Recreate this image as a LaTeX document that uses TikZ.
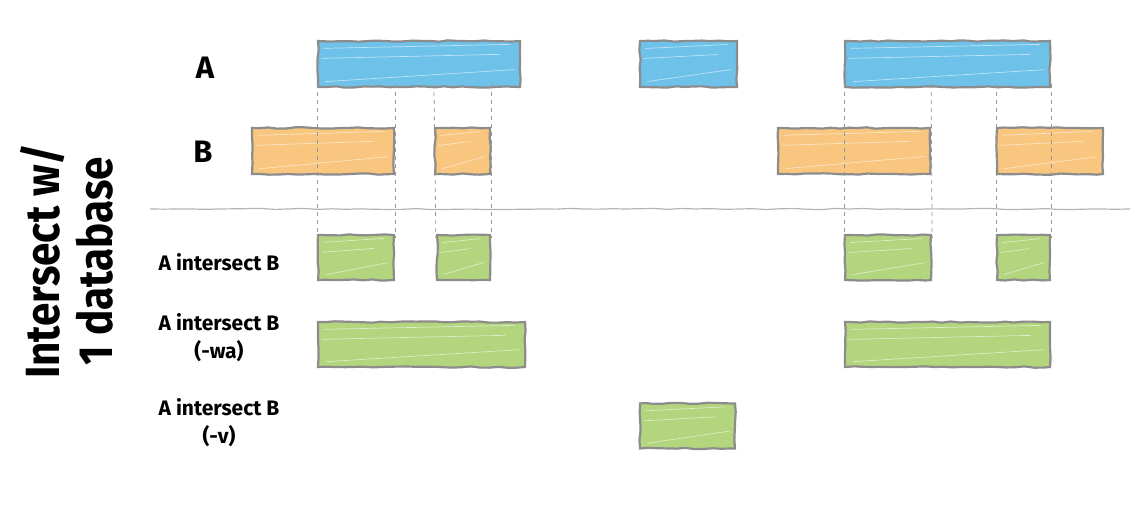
\documentclass[tikz,border=0pt]{standalone}
\usepackage{fontspec}
\setmainfont{Fira Sans}
\newfontfamily\narrowfont[FakeStretch=0.88]{Fira Sans}
\usetikzlibrary{decorations.pathmorphing}
\definecolor{barblue}{HTML}{6EC1E8}
\definecolor{barorange}{HTML}{F8C67E}
\definecolor{bargreen}{HTML}{B3D57D}
\definecolor{barline}{HTML}{8C8C8C}
\definecolor{rulegray}{HTML}{B4B4B4}
\tikzset{
  bar/.style={draw=barline, line width=2.2pt, inner sep=0pt, minimum height=46pt,
    decorate, decoration={random steps, segment length=9pt, amplitude=0.7pt},
    path picture={
      \draw[white, opacity=0.55, line width=0.7pt]
        ([xshift=6pt,yshift=-8pt]path picture bounding box.north west) -- ([xshift=-10pt,yshift=-4pt]path picture bounding box.north east)
        ([xshift=8pt,yshift=6pt]path picture bounding box.south west) -- ([xshift=-6pt,yshift=18pt]path picture bounding box.south east)
        ([xshift=4pt,yshift=-18pt]path picture bounding box.north west) -- ([xshift=-20pt,yshift=-14pt]path picture bounding box.north east);
    }},
  abar/.style={bar, fill=barblue},
  bbar/.style={bar, fill=barorange},
  gbar/.style={bar, fill=bargreen, minimum height=45pt},
  guide/.style={draw=barline!90, line width=0.8pt, dash pattern=on 4pt off 4pt},
  rowlabel/.style={font=\bfseries\fontsize{31}{33}\selectfont},
  reslabel/.style={font=\bfseries\fontsize{21}{28}\selectfont, align=center},
  sidelabel/.style={font=\narrowfont\bfseries\fontsize{48}{53}\selectfont, align=center, rotate=90}
}
\begin{document}
\begin{tikzpicture}[x=1pt,y=-1pt]
\useasboundingbox (0,0) rectangle (1137,519);
% rows A and B
\node[abar, minimum width=202pt] (a1) at (419,64) {};
\node[abar, minimum width=97pt]  (a2) at (688.5,64) {};
\node[abar, minimum width=205pt] (a3) at (947.5,64) {};
\node[bbar, minimum width=142pt] (b1) at (323,151) {};
\node[bbar, minimum width=55pt]  (b2) at (462.5,151) {};
\node[bbar, minimum width=152pt] (b3) at (854,151) {};
\node[bbar, minimum width=106pt] (b4) at (1050,151) {};
% separator
\coordinate (sepL) at (150,209);
\coordinate (sepR) at (1130,209);
\draw[rulegray, line width=1.2pt, decorate, decoration={random steps, segment length=14pt, amplitude=0.6pt}] (sepL) -- (sepR);
% results
\node[gbar, minimum width=76pt]  (g1) at (356,257.5) {};
\node[gbar, minimum width=53pt]  (g2) at (463.5,257.5) {};
\node[gbar, minimum width=86pt]  (g3) at (888,257.5) {};
\node[gbar, minimum width=53pt]  (g4) at (1023.5,257.5) {};
\node[gbar, minimum width=207pt] (w1) at (421.5,344.5) {};
\node[gbar, minimum width=205pt] (w2) at (947.5,344.5) {};
\node[gbar, minimum width=95pt]  (v1) at (687.5,426) {};
% guides
\draw[guide] ([yshift=4pt]a1.south west) -- ([yshift=-4pt]g1.north west);
\draw[guide] ([yshift=4pt]a1.south -| b1.east) -- ([yshift=-4pt]g1.north east);
\draw[guide] ([yshift=4pt]a1.south -| b2.west) -- ([yshift=-4pt]g2.north west);
\draw[guide] ([yshift=4pt]a1.south -| b2.east) -- ([yshift=-4pt]g2.north east);
\draw[guide] ([yshift=4pt]a3.south west) -- ([yshift=-4pt]g3.north west);
\draw[guide] ([yshift=4pt]a3.south -| b3.east) -- ([yshift=-4pt]g3.north east);
\draw[guide] ([yshift=4pt]a3.south -| b4.west) -- ([yshift=-4pt]g4.north west);
\draw[guide] ([yshift=4pt]a3.south east) -- ([yshift=-4pt]g4.north east);
% labels
\node[rowlabel] (la) at (205,68) {A};
\node[rowlabel] (lb) at (203,152) {B};
\node[reslabel] (l1) at (219,262) {A intersect B};
\node[reslabel] (l2) at (219,338) {A intersect B\\(-wa)};
\node[reslabel] (l3) at (219,423) {A intersect B\\(-v)};
\node[sidelabel] (side) at (67,261) {Intersect w/\\1 database};
\end{tikzpicture}
\end{document}
